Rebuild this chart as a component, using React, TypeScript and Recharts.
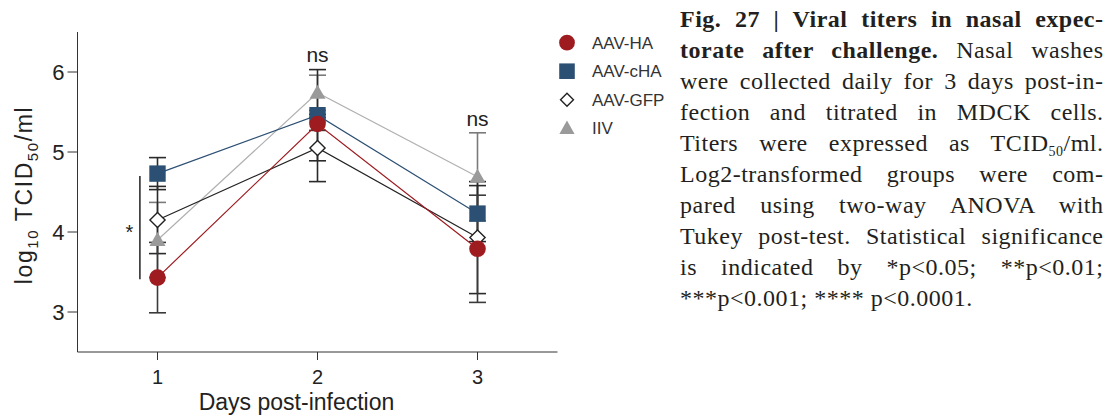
import React from 'react';
import { LineChart, Line, XAxis, YAxis, ErrorBar, ReferenceLine, ReferenceDot, Label } from 'recharts';

// days post-infection
const days = [1, 2, 3];

// log10 TCID50/ml, mean and error per group
const haMean = [3.43, 5.35, 3.79];
const haErr = [0.44, 0.08, 0.67];
const chaMean = [4.73, 5.46, 4.23];
const chaErr = [0.2, 0.57, 0.35];
const gfpMean = [4.15, 5.05, 3.93];
const gfpErr = [0.42, 0.42, 0.7];
const iivMean = [3.9, 5.74, 4.69];
const iivErr = [0.47, 0.22, 0.55];

const yTicks = [3, 4, 5, 6];
const groupNames = ['AAV-HA', 'AAV-cHA', 'AAV-GFP', 'IIV'];

// significance marks (data coords of text baseline)
const notes = [
  { x: 2, y: 6.125, text: 'ns' },
  { x: 3, y: 5.32, text: 'ns' },
  { x: 0.824, y: 3.91, text: '*' },
];
const bracket = { x: 0.89, from: 4.7, to: 3.41 };

const data = days.map((d, i) => ({
  day: d,
  ha: haMean[i], haErr: haErr[i],
  cha: chaMean[i], chaErr: chaErr[i],
  gfp: gfpMean[i], gfpErr: gfpErr[i],
  iiv: iivMean[i], iivErr: iivErr[i],
}));

const RED = '#9e1b20';
const BLUE = '#2c5073';
const GREY = '#9a9a9a';
const SANS = 'Arial, "Liberation Sans", Helvetica, sans-serif';

type Kind = 'circle' | 'square' | 'diamond' | 'triangle';

const Marker = ({ kind, cx, cy, s = 1 }: { kind: Kind; cx: number; cy: number; s?: number }) => {
  if (cx == null || cy == null) return null;
  if (kind === 'circle') return <circle cx={cx} cy={cy} r={8.3 * s} fill={RED} />;
  if (kind === 'square') return <rect x={cx - 8.2 * s} y={cy - 8.2 * s} width={16.4 * s} height={16.4 * s} fill={BLUE} />;
  if (kind === 'diamond') {
    const h = 7.6 * s;
    return <polygon points={`${cx},${cy - h} ${cx + h},${cy} ${cx},${cy + h} ${cx - h},${cy}`} fill="#fff" stroke="#222" strokeWidth={1.4} />;
  }
  const w = 8 * s;
  return <polygon points={`${cx},${cy - 8 * s} ${cx + w},${cy + 6 * s} ${cx - w},${cy + 6 * s}`} fill={GREY} />;
};

const kinds: Kind[] = ['circle', 'square', 'diamond', 'triangle'];

const dotFor = (kind: Kind, key: string) => (p: any) => (
  <Marker key={`${key}-${p.index}`} kind={kind} cx={p.cx} cy={p.cy} />
);

const YLabel = (props: any) => {
  const vb = props.viewBox;
  const x = 32;
  const y = vb.y + vb.height / 2 + 3;
  return (
    <text x={x} y={y} transform={`rotate(-90 ${x} ${y})`} textAnchor="middle" fill="#222" fontSize={23} fontFamily={SANS} letterSpacing={1.6}>
      log<tspan fontSize={15} dy={6}>10</tspan>
      <tspan dy={-6}> TCID</tspan>
      <tspan fontSize={15} dy={6}>50</tspan>
      <tspan dy={-6}>/ml</tspan>
    </text>
  );
};

const XLabel = (props: any) => {
  const vb = props.viewBox;
  return (
    <text x={vb.x + vb.width / 2 - 21} y={vb.y + 58} textAnchor="middle" fill="#222" fontSize={23} fontFamily={SANS}>
      Days post-infection
    </text>
  );
};

const NoteText = (text: string) => (p: any) => (
  <text x={p.cx} y={p.cy} textAnchor="middle" fill="#222" fontSize={text === '*' ? 20 : 21} fontFamily={SANS}>
    {text}
  </text>
);

const captionLines: React.ReactNode[] = [
  <b>Fig. 27 | Viral titers in nasal expec-</b>,
  <><b>torate after challenge.</b> Nasal washes</>,
  'were collected daily for 3 days post-in-',
  'fection and titrated in MDCK cells.',
  <>Titers were expressed as TCID<span style={{ fontSize: 14, position: 'relative', top: 5 }}>50</span>/ml.</>,
  'Log2-transformed groups were com-',
  'pared using two-way ANOVA with',
  'Tukey post-test. Statistical significance',
  'is indicated by *p<0.05; **p<0.01;',
  '***p<0.001; **** p<0.0001.',
];

const App = () => {
  return (
    <div style={{ position: 'relative', width: 1111, height: 419, background: '#fff', overflow: 'hidden' }}>
      <style>{'body{margin:0}'}</style>
      <div style={{ position: 'absolute', left: 0, top: 0 }}>
        <LineChart width={600} height={419} data={data} margin={{ top: 32, right: 42.5, bottom: 0, left: 0 }}>
          <XAxis
            dataKey="day"
            type="number"
            domain={[0.5, 3.5]}
            ticks={days}
            height={67}
            stroke="#333"
            tickSize={8}
            tickMargin={10}
            tick={{ fill: '#222', fontSize: 20, fontFamily: SANS }}
          >
            <Label content={XLabel} />
          </XAxis>
          <YAxis
            type="number"
            domain={[2.5, 6.5]}
            ticks={yTicks}
            width={77.5}
            stroke="#333"
            tickSize={10}
            tickMargin={3}
            tick={{ fill: '#222', fontSize: 22, fontFamily: SANS }}
          >
            <Label content={YLabel} />
          </YAxis>
          <ReferenceLine
            segment={[{ x: bracket.x, y: bracket.from }, { x: bracket.x, y: bracket.to }]}
            stroke="#222"
            strokeWidth={1.5}
          />
          {notes.map((n, i) => (
            <ReferenceDot key={i} x={n.x} y={n.y} r={0} shape={NoteText(n.text)} />
          ))}
          <Line dataKey="iiv" name={groupNames[3]} stroke="#b0b0b0" strokeWidth={1.2} dot={dotFor('triangle', 'iiv')} isAnimationActive={false}>
            <ErrorBar dataKey="iivErr" direction="y" width={8.5} stroke="#7a7a7a" strokeWidth={1.6} isAnimationActive={false} />
          </Line>
          <Line dataKey="gfp" name={groupNames[2]} stroke="#222" strokeWidth={1.2} dot={dotFor('diamond', 'gfp')} isAnimationActive={false}>
            <ErrorBar dataKey="gfpErr" direction="y" width={8.5} stroke="#2a2a2a" strokeWidth={1.6} isAnimationActive={false} />
          </Line>
          <Line dataKey="cha" name={groupNames[1]} stroke={BLUE} strokeWidth={1.2} dot={dotFor('square', 'cha')} isAnimationActive={false}>
            <ErrorBar dataKey="chaErr" direction="y" width={8.5} stroke="#2a2a2a" strokeWidth={1.6} isAnimationActive={false} />
          </Line>
          <Line dataKey="ha" name={groupNames[0]} stroke={RED} strokeWidth={1.2} dot={dotFor('circle', 'ha')} isAnimationActive={false}>
            <ErrorBar dataKey="haErr" direction="y" width={8.5} stroke="#3a3a3a" strokeWidth={1.6} isAnimationActive={false} />
          </Line>
        </LineChart>
      </div>

      <svg style={{ position: 'absolute', left: 550, top: 25 }} width={125} height={120}>
        {groupNames.map((name, i) => (
          <g key={name}>
            <Marker kind={kinds[i]} cx={17} cy={17.7 + i * 28.5} s={i === 2 ? 0.85 : 0.95} />
            <text x={42} y={17.7 + i * 28.5 + 6} fontSize={17} fill="#333" fontFamily={SANS}>{name}</text>
          </g>
        ))}
      </svg>

      <div
        style={{
          position: 'absolute',
          left: 680,
          top: 3.5,
          width: 423.5,
          fontFamily: '"Liberation Serif", "Times New Roman", serif',
          fontSize: 24,
          letterSpacing: 0.5,
          lineHeight: '31.1px',
          color: '#231f20',
        }}
      >
        {captionLines.map((l, i) => (
          <div key={i} style={{ textAlign: 'justify', textAlignLast: i === captionLines.length - 1 ? 'left' : 'justify', height: 31.1, whiteSpace: 'nowrap' }}>
            {l}
          </div>
        ))}
      </div>
    </div>
  );
};

export default App;
